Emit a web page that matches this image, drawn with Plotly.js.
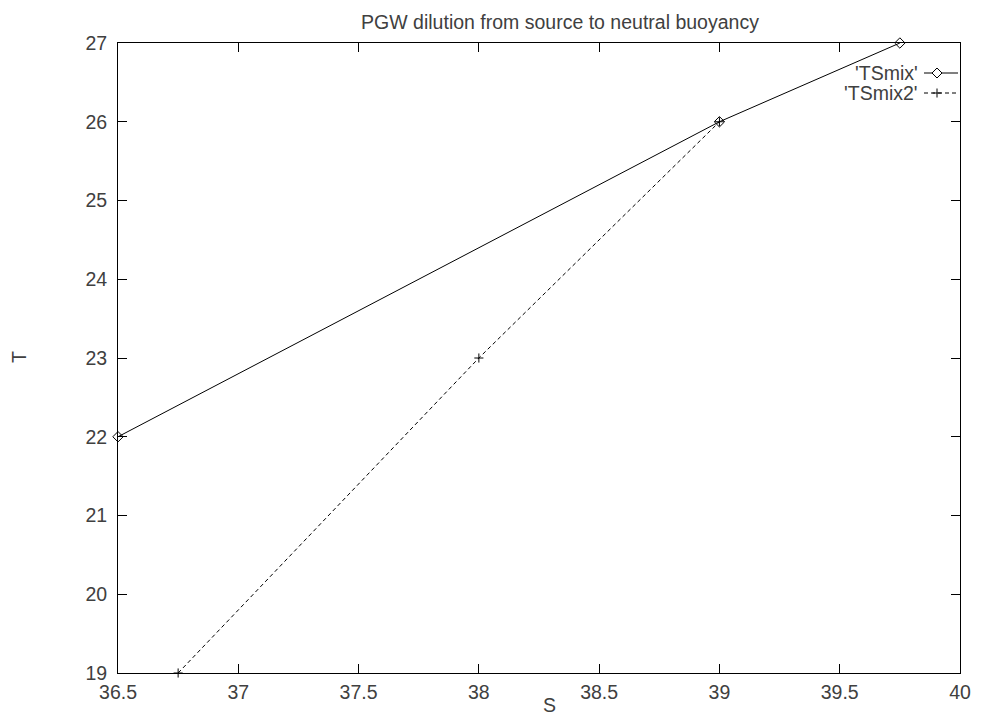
<!DOCTYPE html>
<html>
<head>
<meta charset="utf-8">
<script src="https://cdn.plot.ly/plotly-3.0.1.min.js"></script>
<style>html,body{margin:0;padding:0;background:#fff;}#chart{width:993px;height:718px;}</style>
</head>
<body>
<div id="chart"></div>
<script>
const seriesNames = ["'TSmix'", "'TSmix2'"];
const tsmixS = [36.5, 39, 39.75];
const tsmixT = [22, 26, 27];
const tsmix2S = [36.75, 38, 39];
const tsmix2T = [19, 23, 26];
const xTicks = [36.5, 37, 37.5, 38, 38.5, 39, 39.5, 40];
const yTicks = [19, 20, 21, 22, 23, 24, 25, 26, 27];

const FS = 19.5;
const font = {family: 'Liberation Sans, Arial, sans-serif', size: FS, color: '#404040'};

const traces = [
  {x: tsmixS, y: tsmixT, name: seriesNames[0], mode: 'lines+markers', cliponaxis: false,
   line: {color: '#000', width: 1},
   marker: {symbol: 'diamond-open', size: 8, color: '#000', line: {width: 1}}},
  {x: tsmix2S, y: tsmix2T, name: seriesNames[1], mode: 'lines+markers', cliponaxis: false,
   line: {color: '#000', width: 1, dash: '4px,3px'},
   marker: {symbol: 'cross-thin-open', size: 6.5, color: '#000', line: {width: 1, color: '#000'}}}
];

// plot area in pixels: left 118, right 960, top 43, bottom 673
const px = v => (v - 118) / 842;
const py = v => (673 - v) / 630;
const legY = [73, 93];
const shapes = [
  {type: 'line', xref: 'paper', yref: 'paper', x0: px(924), x1: px(958), y0: py(legY[0]), y1: py(legY[0]), line: {color: '#000', width: 1}},
  {type: 'line', xref: 'paper', yref: 'paper', x0: px(924), x1: px(958), y0: py(legY[1]), y1: py(legY[1]), line: {color: '#000', width: 1, dash: '4px,3px'}},
  {type: 'path', xref: 'paper', yref: 'paper', xsizemode: 'pixel', ysizemode: 'pixel',
   xanchor: px(937), yanchor: py(legY[0]), path: 'M -5 0 L 0 5 L 5 0 L 0 -5 Z',
   fillcolor: '#fff', line: {color: '#000', width: 1}},
  {type: 'path', xref: 'paper', yref: 'paper', xsizemode: 'pixel', ysizemode: 'pixel',
   xanchor: px(937), yanchor: py(legY[1]), path: 'M -4.5 0 L 4.5 0 M 0 -4.5 L 0 4.5',
   line: {color: '#000', width: 1}}
];
const annotations = seriesNames.map((n, i) => ({
  text: n, xref: 'paper', yref: 'paper', x: px(920), y: py(legY[i]), xanchor: 'right', yanchor: 'middle',
  showarrow: false, font: font
}));
annotations.push({text: 'S', xref: 'paper', yref: 'paper', x: px(549), y: py(705), xanchor: 'center', yanchor: 'middle',
  showarrow: false, font: font});
annotations.push({text: 'T', xref: 'paper', yref: 'paper', x: px(19), y: py(357), xanchor: 'center', yanchor: 'middle',
  textangle: -90, showarrow: false, font: font});

const layout = {
  width: 993, height: 718,
  margin: {l: 118, r: 33, t: 43, b: 45},
  paper_bgcolor: '#fff', plot_bgcolor: '#fff',
  font: font,
  showlegend: false,
  title: {text: 'PGW dilution from source to neutral buoyancy', font: font,
          x: 560 / 993, xref: 'container', xanchor: 'center', y: 1 - 22 / 718, yref: 'container', yanchor: 'middle'},
  xaxis: {range: [36.5, 40], tickvals: xTicks, ticktext: xTicks.map(String), ticks: 'inside', ticklen: 9,
          tickcolor: '#000', showline: true, linecolor: '#000', linewidth: 1, mirror: 'ticks',
          showgrid: false, zeroline: false, tickfont: font, ticklabelstandoff: 2},
  yaxis: {range: [19, 27], tickvals: yTicks, ticktext: yTicks.map(String), ticks: 'inside', ticklen: 9,
          tickcolor: '#000', showline: true, linecolor: '#000', linewidth: 1, mirror: 'ticks',
          showgrid: false, zeroline: false, tickfont: font, ticklabelstandoff: 6},
  shapes: shapes,
  annotations: annotations
};

Plotly.newPlot('chart', traces, layout, {displayModeBar: false, staticPlot: true});
</script>
</body>
</html>
